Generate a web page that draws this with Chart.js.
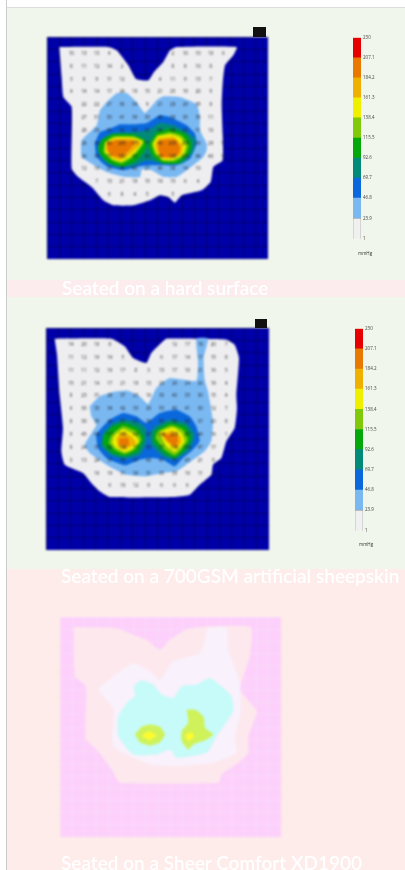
<!DOCTYPE html>
<html>
<head>
<meta charset="utf-8">
<script src="https://cdn.jsdelivr.net/npm/chart.js@4"></script>
<style>
html,body{margin:0;padding:0;background:#fff}
body{position:relative;width:405px;height:870px;overflow:hidden}
.band{position:absolute;left:6px;right:0}
.cap{position:absolute;color:#fff;font:600 19px Lato,"Open Sans",sans-serif;white-space:nowrap;filter:blur(.6px)}
canvas{position:absolute;filter:blur(.9px)}
.tab{position:absolute;background:#111;filter:blur(.6px)}
.unit{position:absolute;font:4.5px "Open Sans",sans-serif;color:#333;filter:blur(.4px)}
</style>
</head>
<body>
<div class="band" style="top:0;height:7px;background:#fff;border-left:1px solid #ccc"></div>
<div class="band" style="top:7px;height:273px;background:#f1f6ec;border-left:1px solid #ccc;border-top:1px solid #ddd"></div>
<div class="band" style="top:280px;height:17px;background:#fdecee;border-left:1px solid #ccc"></div>
<div class="band" style="top:297px;height:272px;background:#f1f6ec;border-left:1px solid #ccc"></div>
<div class="band" style="top:569px;height:301px;background:#fdecea;border-left:1px solid #ccc"></div>

<canvas id="mapHard" width="221" height="222" style="left:47px;top:37px"></canvas>
<canvas id="barHard" width="38" height="210" style="left:353px;top:33px;filter:blur(.6px)"></canvas>
<div class="tab" style="left:253px;top:27px;width:13px;height:10px"></div>
<div class="unit" style="left:358px;top:250px">mmHg</div>
<div class="cap" style="left:62px;top:276px">Seated on a hard surface</div>

<canvas id="mapSheep" width="223" height="222" style="left:46px;top:328px"></canvas>
<canvas id="barSheep" width="38" height="211" style="left:355px;top:324px;filter:blur(.6px)"></canvas>
<div class="tab" style="left:255px;top:319px;width:12px;height:9px"></div>
<div class="unit" style="left:359px;top:541px">mmHg</div>
<div class="cap" style="left:61px;top:564px">Seated on a 700GSM artificial sheepskin</div>

<canvas id="mapShear" width="221" height="220" style="left:60px;top:617px;filter:blur(1px)"></canvas>
<canvas id="barShear" width="7" height="184" style="left:365px;top:617px;filter:blur(1.4px)"></canvas>
<div class="cap" style="left:61px;top:851px">Seated on a Sheer Comfort XD1900</div>

<script>
// contours, in sensor map units
const hardWhite = [[178,140],[325,140],[350,150],[385,195],[408,236],[445,240],[462,215],[490,185],[510,150],[530,140],[710,140],[700,165],[675,195],[668,250],[665,310],[668,400],[668,480],[640,500],[632,545],[605,570],[545,585],[525,607],[505,590],[480,585],[450,600],[400,615],[340,615],[310,600],[275,560],[235,530],[215,505],[215,320],[190,290],[185,230]];
const hardLight = [[350,278],[380,278],[410,305],[435,338],[470,300],[490,288],[540,290],[590,312],[600,350],[600,390],[620,430],[620,450],[610,470],[560,510],[530,530],[490,530],[455,510],[425,508],[420,530],[375,530],[320,515],[275,490],[245,470],[245,420],[290,375],[300,330],[325,300]];
const hardBlue = [[360,372],[400,372],[440,368],[480,345],[510,350],[560,375],[585,400],[590,430],[570,475],[530,495],[490,495],[450,495],[420,498],[370,510],[320,498],[290,470],[285,430],[300,395],[330,385]];
const hardTeal = [[305,415],[340,398],[400,395],[445,390],[480,368],[520,375],[560,395],[585,415],[580,455],[545,490],[490,490],[440,480],[400,498],[350,500],[315,485],[292,450]];
const hardGreenL = [[305,420],[335,402],[400,402],[435,420],[440,440],[410,480],[370,498],[330,490],[300,460],[295,440]];
const hardGreenR = [[470,395],[510,385],[555,400],[575,430],[565,465],[530,490],[490,490],[460,470],[445,435]];
const hardLimeL = [[315,425],[340,408],[400,408],[430,420],[430,432],[400,470],[365,490],[335,480],[310,455]];
const hardLimeR = [[470,405],[510,395],[545,405],[565,435],[555,465],[525,483],[490,483],[465,462],[455,430]];
const hardYellowL = [[316,426],[345,412],[402,412],[428,425],[397,465],[365,484],[338,477],[316,455]];
const hardYellowR = [[473,408],[512,402],[542,412],[557,437],[550,462],[520,478],[488,478],[470,458],[460,432]];
const hardAmberL = [[318,428],[345,416],[400,415],[423,428],[392,460],[362,478],[338,472],[320,452]];
const hardAmberR = [[476,414],[522,410],[548,438],[543,462],[518,474],[486,474],[474,456],[466,433]];
const hardOrangeL = [[322,428],[350,420],[405,425],[385,452],[362,470],[335,465],[322,447]];
const hardOrangeR = [[478,420],[525,418],[540,440],[535,462],[515,470],[485,470],[475,450],[475,432]];

const sheepWhite = [[165,132],[335,132],[375,155],[400,190],[440,205],[455,175],[490,140],[500,132],[680,135],[705,150],[718,190],[710,300],[712,340],[705,400],[680,440],[665,490],[640,510],[635,540],[600,570],[570,600],[520,607],[330,607],[300,590],[275,565],[250,535],[195,510],[185,470],[190,400],[180,300],[172,180]];
const sheepLight = [[270,335],[300,305],[340,292],[385,288],[420,305],[445,328],[470,280],[510,250],[590,258],[595,200],[590,132],[625,132],[612,190],[615,255],[625,290],[640,380],[635,440],[615,470],[560,510],[530,530],[490,535],[440,545],[380,540],[320,510],[270,475],[255,450],[290,390],[275,365]];
const sheepBlue = [[330,375],[370,355],[410,365],[440,385],[480,355],[530,345],[570,365],[590,395],[600,440],[575,470],[550,490],[525,515],[490,495],[450,490],[420,495],[375,512],[320,490],[295,460],[290,420],[310,395]];
const sheepTealL = [[310,415],[340,385],[375,375],[420,385],[440,405],[440,445],[420,480],[375,492],[335,482],[305,455]];
const sheepTealR = [[465,395],[510,375],[560,385],[585,420],[570,465],[525,495],[490,485],[455,450],[450,420]];
const sheepGreenL = [[312,425],[340,395],[375,385],[415,400],[432,430],[415,470],[375,485],[340,475],[312,450]];
const sheepGreenR = [[465,410],[510,385],[555,395],[575,430],[555,465],[525,490],[495,475],[462,440]];
const sheepLimeL = [[335,420],[370,395],[410,410],[425,435],[405,465],[375,478],[345,465],[328,445]];
const sheepLimeR = [[475,410],[515,392],[550,405],[565,435],[545,465],[525,482],[495,465],[468,430]];
const sheepYellowL = [[342,425],[370,403],[405,420],[418,440],[400,462],[375,472],[350,460],[338,445]];
const sheepYellowR = [[478,412],[520,398],[545,415],[555,440],[540,460],[525,472],[500,455]];
const sheepAmberL = [[350,430],[368,412],[395,425],[410,445],[395,455],[375,465],[355,455]];
const sheepAmberR = [[482,418],[520,408],[542,425],[545,442],[530,462],[505,445]];
const sheepOrangeL = [[358,432],[385,430],[388,452],[360,450]];
const sheepOrangeR = [[490,420],[530,420],[535,440],[525,455],[505,440]];

const shearOuter = [[222,112],[345,115],[400,135],[440,150],[480,180],[510,150],[570,115],[752,112],[750,200],[720,300],[770,365],[745,440],[745,490],[715,520],[665,555],[655,580],[360,580],[335,540],[290,480],[258,450],[258,290],[225,260]];
const shearPale = [[620,115],[680,115],[685,180],[720,280],[722,370],[705,445],[710,490],[640,520],[540,530],[450,525],[340,470],[340,360],[295,300],[340,260],[400,220],[450,245],[480,270],[520,215],[600,190],[615,150]];
const shearCyan = [[400,290],[425,272],[460,285],[485,315],[520,325],[545,290],[590,285],[630,265],[670,295],[695,320],[700,365],[650,440],[620,490],[530,505],[510,480],[470,495],[400,495],[355,440],[355,380],[385,335],[405,320]];
const shearLimeL = [[405,435],[425,412],[450,405],[480,412],[495,435],[480,458],[450,468],[420,458]];
const shearLimeR = [[560,360],[590,362],[612,385],[615,415],[640,435],[620,450],[580,465],[565,480],[545,455],[545,425],[565,400]];
const shearYellowL = [[425,437],[448,425],[470,438],[448,452]];
const shearYellowR = [[555,435],[575,428],[582,442],[565,455]];

// sensor readings, rows top to bottom
const hardReadings = [
  [10,13,13,4,null,null,null,null,2,10,10,10,6],
  [8,11,12,14,2,null,null,null,8,8,10,8,null],
  [3,9,9,11,12,null,null,4,11,9,13,7,null],
  [4,14,14,17,24,19,15,21,25,19,20,9,null],
  [null,22,22,27,36,34,9,21,28,29,39,8,1],
  [null,27,31,33,41,39,33,46,38,35,35,11,null],
  [null,28,29,35,52,55,51,64,68,62,51,10,null],
  [null,28,36,86,205,177,71,66,205,205,69,29,11],
  [null,26,36,77,180,95,66,69,189,205,84,40,10],
  [null,12,16,29,44,40,27,46,38,14,10,null,null],
  [null,null,7,13,21,19,15,19,15,6,4,null,null],
  [null,null,null,6,8,4,5,null,5,null,null,null,null]
];
const sheepReadings = [
  [14,20,16,8,null,null,null,null,12,17,18,20,7],
  [11,12,16,14,5,null,null,6,17,14,17,15,8],
  [11,11,12,16,17,8,3,13,17,10,21,16,5],
  [15,21,14,17,21,19,13,28,29,24,26,19,4],
  [8,23,31,28,37,23,16,30,40,35,30,15,4],
  [6,30,33,34,42,33,29,53,40,41,30,12,7],
  [8,30,35,46,57,61,36,56,58,50,37,20,8],
  [9,45,66,117,185,68,67,188,205,87,46,16,1],
  [8,24,37,82,188,77,69,77,180,100,47,17,null],
  [3,13,24,37,56,47,45,47,70,45,21,9,null],
  [null,null,16,19,31,30,31,33,33,16,11,4,null],
  [null,null,null,6,10,12,9,6,6,6,null,null,null]
];

// colour bar: mmHg band widths and tick labels
const barSteps = [23.9,22.9,22.9,22.9,22.9,22.9,22.9,22.9,22.9,22.9];
const barTicks = [1,23.9,46.8,69.7,92.6,115.5,138.4,161.3,184.2,207.1,230];
const barColors = ['#f0f0f1','#7ab8f2','#0a68dc','#028a78','#04a80a','#7fc80a','#eef000','#f0b000','#e87800','#e60000'];
const shearSteps = [22.9,22.9,22.9,22.9,22.9,22.9,22.9,22.9,22.9];
const shearColors = ['#f8f0fc','#c8fbf5','#c6fbfa','#bfe858','#fcf520','#fdfb10','#fcd860','#fbbd85','#fa9aa8'];

const WHITE='#eeeef0', LIGHT='#7ab8f2', BLUE='#0a68dc', TEAL='#028a78', GREEN='#04a80a', LIME='#7fc80a', YELLOW='#eef000', AMBER='#f0b000', ORANGE='#e87800';

function shape(pts, color){
  return {
    data: pts.concat([pts[0]]).map(p => ({x:p[0], y:p[1]})),
    showLine:true, fill:'shape', backgroundColor:color, borderWidth:0, pointRadius:0, tension:0.15
  };
}

const mapBack = {
  id:'mapBack',
  beforeDraw(chart, args, opts){
    const a = chart.chartArea;
    chart.ctx.fillStyle = opts.color;
    chart.ctx.fillRect(a.left, a.top, a.width, a.height);
  }
};
const sensorText = {
  id:'sensorText',
  afterDatasetsDraw(chart, args, opts){
    if(!opts.rows) return;
    const {ctx, scales:{x,y}} = chart;
    ctx.save();
    ctx.font = '4.5px "Open Sans",sans-serif';
    ctx.fillStyle = '#222';
    ctx.textAlign = 'center';
    ctx.textBaseline = 'middle';
    opts.rows.forEach((row,r) => row.forEach((v,c) => {
      if(v===null) return;
      ctx.fillText(v, x.getPixelForValue(opts.x0+c*opts.dx), y.getPixelForValue(opts.y0+r*opts.dy));
    }));
    ctx.restore();
  }
};

function drawMap(id, sets, box, back, grid, labels){
  const gridTicks = (lo,hi) => scale => {
    const t=[]; for(let i=0;i<=18;i++) t.push({value:lo+(hi-lo)*i/18});
    scale.ticks=t;
  };
  return new Chart(document.getElementById(id), {
    type:'scatter',
    data:{datasets:sets.map((s,i)=>Object.assign(s,{order:-i}))},
    plugins:[mapBack,sensorText],
    options:{
      responsive:false, animation:false, events:[],
      layout:{padding:0},
      scales:{
        x:{type:'linear',min:box[0],max:box[1],afterBuildTicks:gridTicks(box[0],box[1]),ticks:{display:false},grid:{color:grid,lineWidth:1,drawTicks:false},border:{display:false}},
        y:{type:'linear',reverse:true,min:box[2],max:box[3],afterBuildTicks:gridTicks(box[2],box[3]),ticks:{display:false},grid:{color:grid,lineWidth:1,drawTicks:false},border:{display:false}}
      },
      plugins:{legend:{display:false},tooltip:{enabled:false},mapBack:{color:back},sensorText:labels||{}}
    }
  });
}

function drawBar(id, steps, colors, withTicks){
  return new Chart(document.getElementById(id), {
    type:'bar',
    data:{labels:['mmHg'],datasets:steps.map((v,i)=>({data:[v],backgroundColor:colors[i],barPercentage:1,categoryPercentage:1,stack:'s',
      borderWidth:(withTicks&&i===0)?.6:0,borderColor:'#888'}))},
    options:{
      responsive:false, animation:false, events:[],
      layout:{padding:withTicks?{top:4,bottom:4}:0},
      scales:{
        x:{stacked:true,display:false},
        y:{stacked:true,position:'right',min:1,max:withTicks?230:207.1,display:withTicks,grid:{display:false,drawTicks:false},border:{display:false},
          afterBuildTicks:s=>{s.ticks=barTicks.map(v=>({value:v}))},
          afterFit:s=>{s.width=30},
          ticks:{autoSkip:false,padding:2,color:'#444',font:{size:4.5,family:'"Open Sans",sans-serif'},callback:v=>v}}
      },
      plugins:{legend:{display:false},tooltip:{enabled:false}}
    }
  });
}

drawMap('mapHard',[
  shape(hardWhite,WHITE),shape(hardLight,LIGHT),shape(hardBlue,BLUE),shape(hardTeal,TEAL),
  shape(hardGreenL,GREEN),shape(hardGreenR,GREEN),shape(hardLimeL,LIME),shape(hardLimeR,LIME),
  shape(hardYellowL,YELLOW),shape(hardYellowR,YELLOW),shape(hardAmberL,AMBER),shape(hardAmberR,AMBER),
  shape(hardOrangeL,ORANGE),shape(hardOrangeR,ORANGE)
],[141,804,110,776],'#0000a8','rgba(0,0,50,.45)',{rows:hardReadings,x0:214,dx:38,y0:160,dy:38.5});

drawMap('mapSheep',[
  shape(sheepWhite,WHITE),shape(sheepLight,LIGHT),shape(sheepBlue,BLUE),shape(sheepTealL,TEAL),shape(sheepTealR,TEAL),
  shape(sheepGreenL,GREEN),shape(sheepGreenR,GREEN),shape(sheepLimeL,LIME),shape(sheepLimeR,LIME),
  shape(sheepYellowL,YELLOW),shape(sheepYellowR,YELLOW),shape(sheepAmberL,AMBER),shape(sheepAmberR,AMBER),
  shape(sheepOrangeL,ORANGE),shape(sheepOrangeR,ORANGE)
],[139,808,100,766],'#0000a8','rgba(0,0,50,.45)',{rows:sheepReadings,x0:214,dx:38.8,y0:150,dy:38.6});

drawMap('mapShear',[
  shape(shearOuter,'#fde8ee'),shape(shearPale,'#f9f1fb'),shape(shearCyan,'#c6fbf9'),
  shape(shearLimeL,'#cff25a'),shape(shearLimeR,'#cff25a'),shape(shearYellowL,'#fdfb30'),shape(shearYellowR,'#fdfb30')
],[180,843,82,743],'#fcd0fb','rgba(255,255,255,.2)');

drawBar('barHard',barSteps,barColors,true);
drawBar('barSheep',barSteps,barColors,true);
drawBar('barShear',shearSteps,shearColors,false);
</script>
</body>
</html>
